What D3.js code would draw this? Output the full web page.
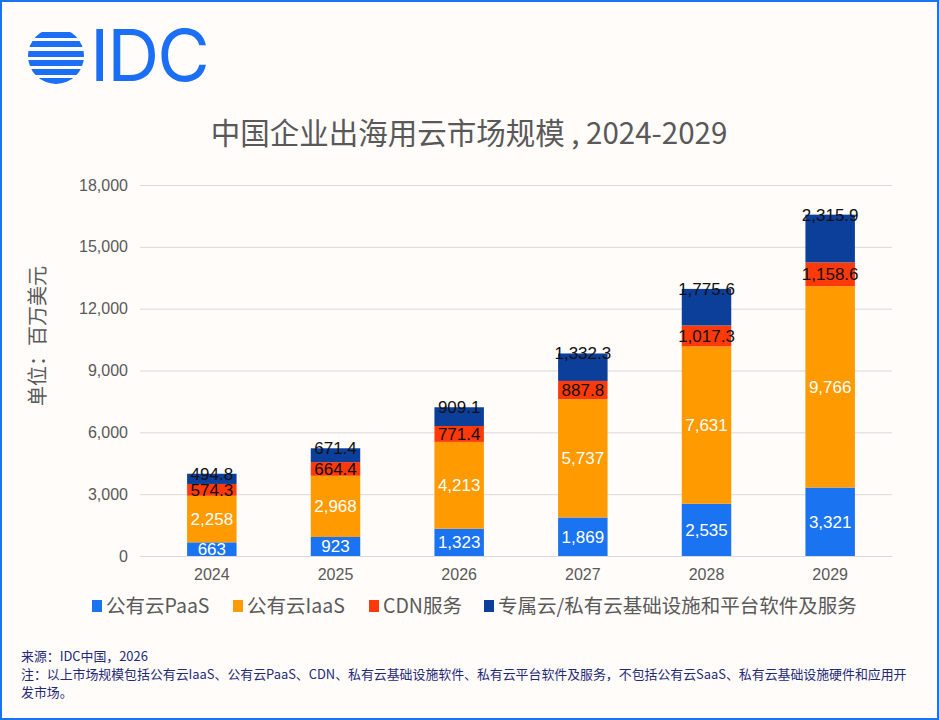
<!DOCTYPE html>
<html><head><meta charset="utf-8">
<script src="https://cdn.jsdelivr.net/npm/d3@7"></script>
<style>body{margin:0;background:#fff;}svg{display:block;font-family:"Noto Sans CJK SC","Noto Sans",sans-serif;}</style>
</head><body><svg id="c" width="939" height="720"></svg>
<script>
// chart values
var years = ["2024", "2025", "2026", "2027", "2028", "2029"];
var paas = [663, 923, 1323, 1869, 2535, 3321];
var iaas = [2258, 2968, 4213, 5737, 7631, 9766];
var cdn = [574.3, 664.4, 771.4, 887.8, 1017.3, 1158.6];
var dedicated = [494.8, 671.4, 909.1, 1332.3, 1775.6, 2315.9];
var seriesNames = ["公有云PaaS", "公有云IaaS", "CDN服务", "专属云/私有云基础设施和平台软件及服务"];
var colors = ["#1a73f0", "#ff9a00", "#ff3a0a", "#0b3f9a"];
var labelColors = ["#fff", "#fff", "#111", "#111"];
var yTicks = [0, 3000, 6000, 9000, 12000, 15000, 18000];

var svg = d3.select("#c");
svg.append("rect").attr("x", 1).attr("y", 1).attr("width", 937).attr("height", 718)
  .attr("fill", "#fffcf9").attr("stroke", "#1a73f0").attr("stroke-width", 2);

// logo
var logo = svg.append("g").attr("transform", "translate(56,56)");
logo.append("clipPath").attr("id", "lc").append("circle").attr("r", 28);
var stripes = logo.append("g").attr("clip-path", "url(#lc)");
[-24, -15, -5, 4, 13, 22].forEach(function (y) {
  stripes.append("rect").attr("x", -30).attr("y", y).attr("width", 60).attr("height", 6).attr("fill", "#1a6ff5");
});
svg.append("text").attr("x", 90).attr("y", 81).attr("font-family", "Inter, sans-serif")
  .attr("font-size", 72).attr("fill", "#1a6ff5").attr("letter-spacing", -2).text("IDC");

svg.append("text").attr("x", 469).attr("y", 144).attr("text-anchor", "middle")
  .attr("font-size", 29.5).attr("fill", "#595959").text("中国企业出海用云市场规模 , 2024-2029");

var x = d3.scaleBand().domain(years).range([150, 892]).paddingInner(0.6).paddingOuter(0.3);
var y = d3.scaleLinear().domain([0, 18000]).range([556, 185]);

var ya = svg.append("g").attr("transform", "translate(140,0)")
  .call(d3.axisLeft(y).tickValues(yTicks).tickSize(-752).tickFormat(d3.format(",")));
ya.select(".domain").remove();
ya.selectAll("line").attr("stroke", "#d9d9d9");
ya.selectAll("text").attr("fill", "#595959").attr("font-size", 16).attr("x", -12).attr("font-family", "Liberation Sans, Arial");

var xa = svg.append("g").attr("transform", "translate(0,556)").call(d3.axisBottom(x).tickSize(0));
xa.select(".domain").attr("stroke", "#d9d9d9");
xa.selectAll("text").attr("fill", "#595959").attr("font-size", 16).attr("dy", "1.3em").attr("font-family", "Liberation Sans, Arial");

svg.append("text").attr("transform", "translate(45,336) rotate(-90)").attr("text-anchor", "middle")
  .attr("font-size", 20).attr("fill", "#595959").text("单位：百万美元");

var table = years.map(function (yr, i) { return { year: yr, s0: paas[i], s1: iaas[i], s2: cdn[i], s3: dedicated[i] }; });
var stack = d3.stack().keys(["s0", "s1", "s2", "s3"])(table);
var fmt0 = d3.format(","), fmt1 = d3.format(",.1f");
stack.forEach(function (layer, k) {
  var g = svg.append("g");
  g.selectAll("rect").data(layer).join("rect")
    .attr("x", function (d) { return x(d.data.year); }).attr("width", x.bandwidth())
    .attr("y", function (d) { return y(d[1]); }).attr("height", function (d) { return y(d[0]) - y(d[1]); })
    .attr("fill", colors[k]);
  g.selectAll("text").data(layer).join("text")
    .attr("x", function (d) { return x(d.data.year) + x.bandwidth() / 2; })
    .attr("y", function (d) { return k === 3 ? y(d[1]) + 6 : (y(d[0]) + y(d[1])) / 2 + 6; })
    .attr("text-anchor", "middle").attr("font-size", 17).attr("font-family", "Liberation Sans, Arial")
    .attr("fill", labelColors[k])
    .text(function (d) { var v = d[1] - d[0]; return k < 2 ? fmt0(Math.round(v)) : fmt1(v); });
});

// legend
var lx = [92, 233, 369, 484];
seriesNames.forEach(function (n, i) {
  svg.append("rect").attr("x", lx[i]).attr("y", 600).attr("width", 10).attr("height", 12).attr("fill", colors[i]);
  svg.append("text").attr("x", lx[i] + 14).attr("y", 613).attr("font-size", 19.5).attr("fill", "#595959").text(n);
});

var foot = ["来源：IDC中国，2026",
  "注：以上市场规模包括公有云IaaS、公有云PaaS、CDN、私有云基础设施软件、私有云平台软件及服务，不包括公有云SaaS、私有云基础设施硬件和应用开",
  "发市场。"];
foot.forEach(function (t, i) {
  svg.append("text").attr("x", 21).attr("y", 661 + i * 18).attr("font-size", 12.9).attr("fill", "#1f2a78").text(t);
});
</script></body></html>
